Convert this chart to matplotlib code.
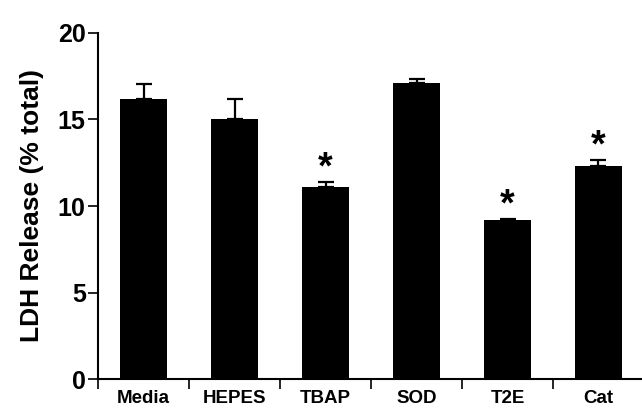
import matplotlib.pyplot as plt
import numpy as np

plt.rcParams['font.family'] = ['Liberation Sans', 'DejaVu Sans']
plt.rcParams['font.weight'] = 'bold'

groups = ['Media', 'HEPES', 'TBAP', 'SOD', 'T2E', 'Cat']
ldh = [16.2, 15.0, 11.1, 17.1, 9.2, 12.3]
sem = [0.85, 1.2, 0.3, 0.25, 0.05, 0.35]
signif = [False, False, True, False, True, True]

fig = plt.figure(figsize=(6.42, 4.12), dpi=100)
ax = fig.add_axes([0.153, 0.080, 0.85, 0.840])

x = np.arange(len(groups))
ax.bar(x, ldh, width=0.52, color='black', zorder=2)
ax.errorbar(x, ldh, yerr=[np.zeros(len(sem)), sem], fmt='none', ecolor='black',
            elinewidth=1.6, capsize=6, capthick=1.6, zorder=1)

for i in range(len(groups)):
    if signif[i]:
        ax.text(x[i], ldh[i] + sem[i] - 0.25, '*', ha='center', va='bottom',
                fontsize=27, fontweight='bold')

ax.set_xlim(-0.5, 5.5)
ax.set_ylim(0, 20)
ax.set_yticks([0, 5, 10, 15, 20])
ax.set_xticks(np.arange(-0.5, 5.6, 1.0))
ax.set_xticklabels([])
ax.set_xticks(x, minor=True)
ax.set_xticklabels(groups, minor=True)
ax.tick_params(axis='x', which='minor', length=0, pad=8, labelsize=13.5)
ax.tick_params(axis='x', which='major', length=7, width=1.2, direction='out')
ax.tick_params(axis='y', length=7, width=1.2, labelsize=18, pad=2)

for s in ['top', 'right']:
    ax.spines[s].set_visible(False)
for s in ['left', 'bottom']:
    ax.spines[s].set_linewidth(1.5)

ax.set_ylabel('LDH Release (% total)', fontsize=19, fontweight='bold', labelpad=10)

fig.savefig('out.png', dpi=100)
